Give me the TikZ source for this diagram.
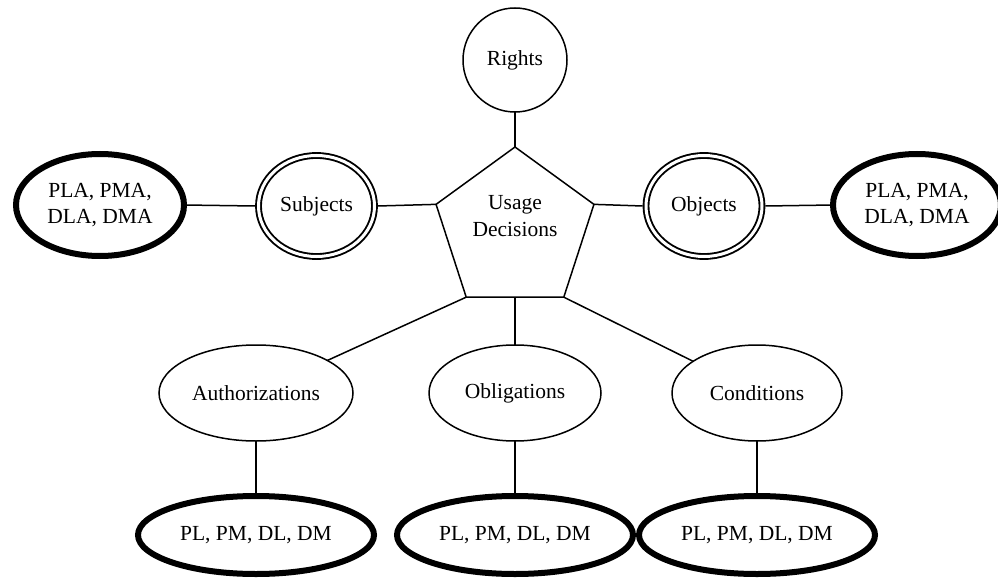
\documentclass[tikz,border=0pt]{standalone}
\usepackage{fontspec}
\setmainfont{Liberation Serif}
\usetikzlibrary{shapes.geometric}
\begin{document}
\begin{tikzpicture}[x=1pt,y=-1pt,
  every node/.style={font=\fontsize{21.5}{26.5}\selectfont, align=center, inner sep=0pt, outer sep=0pt},
  link/.style={line width=1.5pt},
  plainell/.style={ellipse, draw, line width=1.5pt},
  dblell/.style={ellipse, draw, line width=1.9pt, double, double distance=3pt, outer sep=3.4pt},
  heavyell/.style={ellipse, draw, line width=6pt},
  pent/.style={regular polygon, regular polygon sides=5, draw, line width=1.5pt, minimum size=166pt}
]
\useasboundingbox (0,0) rectangle (998,580);

% centre of the diagram
\node[pent] (ud) at (515,230) {};
\node (udtext) at (515,216) {Usage\\Decisions};

% top
\node[circle, draw, line width=1.5pt, minimum size=104pt] (rights) at (515,60) {Rights};

% left and right branches
\node[dblell, minimum width=116pt, minimum height=101pt] (subj) at (316.5,206) {Subjects};
\node[dblell, minimum width=116pt, minimum height=101pt] (obj) at (704,206) {Objects};
\node[heavyell, minimum width=168pt, minimum height=102pt] (lattr) at (100,205) {PLA, PMA,\\DLA, DMA};
\node[heavyell, minimum width=168pt, minimum height=102pt] (rattr) at (917,205) {PLA, PMA,\\DLA, DMA};

% lower branches
\node[plainell, minimum width=194pt, minimum height=96pt] (auth) at (256,393) {Authorizations};
\node[plainell, minimum width=172pt, minimum height=96pt] (obl) at (515,393) {Obligations};
\node[plainell, minimum width=170pt, minimum height=96pt] (cond) at (757,393) {Conditions};

\node[heavyell, minimum width=236pt, minimum height=78pt] (bauth) at (256,535) {PL, PM, DL, DM};
\node[heavyell, minimum width=236pt, minimum height=78pt] (bobl) at (515,535) {PL, PM, DL, DM};
\node[heavyell, minimum width=236pt, minimum height=78pt] (bcond) at (757,535) {PL, PM, DL, DM};

% connectors
\draw[link] (rights.south) -- (ud.corner 1);
\draw[link] (subj.east) -- (ud.corner 2);
\draw[link] (ud.corner 5) -- (obj.west);
\draw[link] (lattr.east) -- (subj.west);
\draw[link] (obj.east) -- (rattr.west);
\draw[link] (ud.corner 3) -- (auth);
\draw[link] (ud.south) -- (obl.north);
\draw[link] (ud.corner 4) -- (cond);
\draw[link] (auth.south) -- (bauth.north);
\draw[link] (obl.south) -- (bobl.north);
\draw[link] (cond.south) -- (bcond.north);
\end{tikzpicture}
\end{document}
